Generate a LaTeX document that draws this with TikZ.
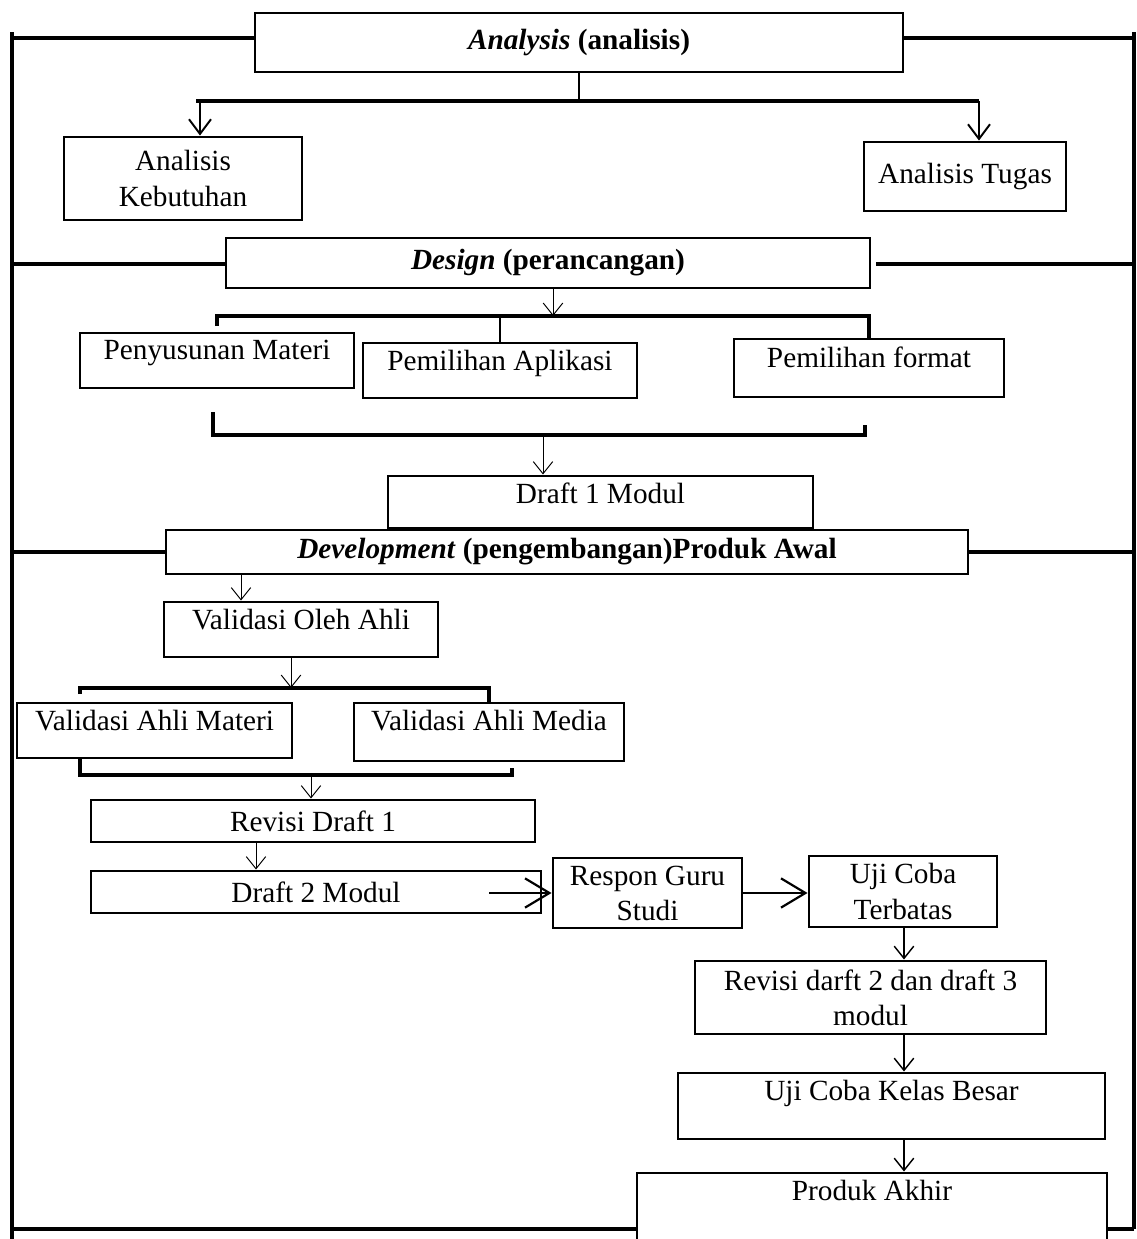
\documentclass[tikz,border=0pt]{standalone}
\usepackage{fontspec}
\setmainfont{Liberation Serif}
\usetikzlibrary{arrows.meta}

\begin{document}
\begin{tikzpicture}[x=0.41pt,y=-0.41pt,
	font=\fontsize{12}{14.4}\selectfont,
	kasten/.style={draw,line width=1.2pt,inner sep=2pt,align=center},
	masse/.style 2 args={minimum width=#1*0.41pt,minimum height=#2*0.41pt},
	hoch/.style={text height=8.5pt,text depth=#1},
	rahmen/.style={line width=1.7pt},
	klammer/.style={line width=1.4pt},
	pfeil/.style={-{Straight Barb[length=5pt,width=8pt]},line width=0.6pt},
	grosspfeil/.style={-{Straight Barb[length=10pt,width=12pt]},line width=0.9pt}]
	\path[use as bounding box,clip] (0,0) rectangle (1137,1239);
	% Kaesten zeichnen
	\node[kasten,masse={648}{59}] (ana) at (579,42.5) {\textbf{\textit{Analysis} (analisis)}};
	\node[kasten,masse={238}{83}] (kebutuhan) at (183,178.5) {Analisis\\Kebutuhan};
	\node[kasten,masse={202}{69}] (tugas) at (965,176.5) {Analisis Tugas};
	\node[kasten,masse={644}{50}] (design) at (548,263) {\textbf{\textit{Design} (perancangan)}};
	\node[kasten,masse={274}{55},hoch=9.1pt] (materi) at (217,360.5) {Penyusunan Materi};
	\node[kasten,masse={274}{55},hoch=8.6pt] (aplikasi) at (500,370.5) {Pemilihan Aplikasi};
	\node[kasten,masse={270}{58},hoch=9.1pt] (format) at (869,368) {Pemilihan format};
	\node[kasten,masse={425}{52},hoch=7.4pt] (draft1) at (600.5,502) {Draft 1 Modul};
	\node[kasten,masse={802}{44}] (dev) at (567,552) {\textbf{\textit{Development} (pengembangan)Produk Awal}};
	\node[kasten,masse={274}{55},hoch=8.6pt] (valahli) at (301,629.5) {Validasi Oleh Ahli};
	\node[kasten,masse={275}{55},hoch=8.2pt] (valmateri) at (154.5,730.5) {Validasi Ahli Materi};
	\node[kasten,masse={270}{58},hoch=9.9pt] (valmedia) at (489,732) {Validasi Ahli Media};
	\node[kasten,masse={444}{42}] (revisi1) at (313,821) {Revisi Draft 1};
	\node[kasten,masse={450}{42}] (draft2) at (316,892) {Draft 2 Modul};
	\node[kasten,masse={189}{70}] (respon) at (647.5,893) {Respon Guru\\Studi};
	\node[kasten,masse={188}{71}] (terbatas) at (903,891.5) {Uji Coba\\Terbatas};
	\node[kasten,masse={351}{73}] (revisi23) at (870.5,997.5) {Revisi darft 2 dan draft 3\\modul};
	\node[kasten,masse={427}{66},hoch=13.2pt] (kelas) at (891.5,1106) {Uji Coba Kelas Besar};
	\node[kasten,masse={470}{77},hoch=17.7pt] (akhir) at (872,1211.5) {Produk Akhir};
	% Rahmen zeichnen
	\coordinate (l1) at (12,38);   \coordinate (r1) at (1134,38);
	\coordinate (l2) at (12,264);  \coordinate (r2) at (1134,264);
	\coordinate (l3) at (12,552);  \coordinate (r3) at (1134,552);
	\coordinate (l4) at (12,1229); \coordinate (r4) at (1134,1229);
	\draw[rahmen] (12,32) -- (12,1245);
	\draw[rahmen] (1134,32) -- (r4);
	\draw[rahmen] (l1) -- (l1 -| ana.west);
	\draw[rahmen] (r1) -- (r1 -| ana.east);
	\draw[rahmen] (l2) -- (l2 -| design.west);
	\draw[rahmen] (r2) -- (876,264);
	\draw[rahmen] (l3) -- (l3 -| dev.west);
	\draw[rahmen] (r3) -- (r3 -| dev.east);
	\draw[rahmen] (l4) -- (l4 -| akhir.west);
	\draw[rahmen] (r4) -- (r4 -| akhir.east);
	% Analysis
	\coordinate (a1) at (200,101);
	\coordinate (a2) at (979,101);
	\draw[line width=1pt] (ana.south) -- (ana.south |- a1);
	\draw[line width=2pt] (196,101) -- (a2);
	\draw[pfeil,line width=0.8pt,-{Straight Barb[length=6pt,width=9pt]}] (a1) -- (a1 |- kebutuhan.north);
	\draw[pfeil,line width=0.8pt,-{Straight Barb[length=6pt,width=9pt]}] (a2) -- (a2 |- tugas.north);
	% Design
	\coordinate (d0) at (553,316);
	\coordinate (d1) at (217,326);
	\draw[pfeil,thin] (design.south -| d0) -- (d0);
	\draw[klammer] (d1) |- (d0) -| (format.north);
	\draw[line width=1pt] (aplikasi.north |- d0) -- (aplikasi.north);
	\coordinate (c0) at (543,435);
	\coordinate (c1) at (213,412);
	\coordinate (c2) at (865,425);
	\draw[klammer] (c1) |- (c0) -| (c2);
	\draw[pfeil,thin] (c0) -- (c0 |- draft1.north);
	% Development
	\coordinate (e0) at (241,0);
	\draw[pfeil,thin] (dev.south -| e0) -- (valahli.north -| e0);
	\coordinate (f0) at (291,688);
	\coordinate (f1) at (80,694);
	\draw[pfeil,thin] (valahli.south -| f0) -- (f0);
	\draw[klammer] (f1) |- (f0) -| (valmedia.north);
	\coordinate (g0) at (311,775);
	\coordinate (g1) at (80,757);
	\coordinate (g2) at (512,768);
	\draw[klammer] (g1) |- (g0) -| (g2);
	\draw[pfeil,thin] (g0) -- (g0 |- revisi1.north);
	\coordinate (h0) at (256,0);
	\draw[pfeil,thin] (revisi1.south -| h0) -- (draft2.north -| h0);
	\coordinate (i0) at (489,893);
	\draw[grosspfeil] (i0) -- (i0 -| respon.west);
	\draw[grosspfeil] (respon.east) -- (respon.east -| terbatas.west);
	\coordinate (k0) at (904,0);
	\draw[pfeil] (terbatas.south -| k0) -- (revisi23.north -| k0);
	\draw[pfeil] (revisi23.south -| k0) -- (kelas.north -| k0);
	\draw[pfeil] (kelas.south -| k0) -- (akhir.north -| k0);
\end{tikzpicture}
\end{document}
